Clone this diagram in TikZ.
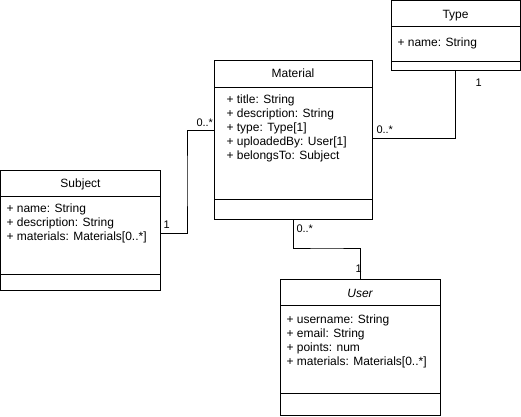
\documentclass[tikz,border=0pt]{standalone}
\usepackage{fontspec}
\setmainfont{Liberation Sans}
\begin{document}
\begin{tikzpicture}[x=1pt,y=-1pt,line width=1pt,
  cls/.style={draw, fill=white, inner sep=0pt, outer sep=0pt, anchor=north west},
  ttl/.style={anchor=base, inner sep=0pt, font=\fontsize{12}{14}\selectfont},
  attr/.style={anchor=base west, inner sep=0pt, font=\fontsize{12}{14}\selectfont},
  mult/.style={anchor=west, inner sep=0pt, font=\fontsize{11}{13}\selectfont},
  conn/.style={draw, line width=1pt}]
\path[use as bounding box, fill=white] (0,0) rectangle (521,416);

% Material
\node[cls, minimum width=158, minimum height=159] (mat) at (214,60) {};
\draw (mat.west |- 0,87) -- (mat.east |- 0,87);
\draw (mat.west |- 0,199) -- (mat.east |- 0,199);
\node[ttl] (matT) at (293,77.5) {Material};
\node[attr] (mat1) at (226,103) {+ title: String};
\node[attr] (mat2) at (226,117) {+ description: String};
\node[attr] (mat3) at (226,131) {+ type: Type[1]};
\node[attr] (mat4) at (226,145) {+ uploadedBy: User[1]};
\node[attr] (mat5) at (226,159) {+ belongsTo: Subject};

% Subject
\node[cls, minimum width=160, minimum height=120] (sub) at (0.5,170) {};
\draw (sub.west |- 0,196) -- (sub.east |- 0,196);
\draw (sub.west |- 0,274) -- (sub.east |- 0,274);
\node[ttl] (subT) at (80.5,187) {Subject};
\node[attr] (sub1) at (6,212) {+ name: String};
\node[attr] (sub2) at (6,226) {+ description: String};
\node[attr] (sub3) at (6,240) {+ materials: Materials[0..*]};

% Type
\node[cls, minimum width=129, minimum height=69.5] (typ) at (391,0.5) {};
\draw (typ.west |- 0,26) -- (typ.east |- 0,26);
\draw (typ.west |- 0,61) -- (typ.east |- 0,61);
\node[ttl] (typT) at (455.5,18.5) {Type};
\node[attr] (typ1) at (397,46) {+ name: String};

% User
\node[cls, minimum width=160, minimum height=136] (usr) at (280,279) {};
\draw (usr.west |- 0,305) -- (usr.east |- 0,305);
\draw (usr.west |- 0,393) -- (usr.east |- 0,393);
\node[ttl] (usrT) at (360,297) {\itshape User};
\node[attr] (usr1) at (286,323) {+ username: String};
\node[attr] (usr2) at (286,337) {+ email: String};
\node[attr] (usr3) at (286,351) {+ points: num};
\node[attr] (usr4) at (286,365) {+ materials: Materials[0..*]};

% Connectors
\draw[conn] (mat.west |- 0,130) -| (187,180) |- (sub.east |- 0,233);
\draw[conn] (mat.east |- 0,138) -| (typ.south);
\draw[conn] (mat.south) |- (327,248) -| (usr.north);

% Multiplicities
\node[mult] (m1) at (196,123) {0..*};
\node[mult] (m2) at (163,225) {1};
\node[mult] (m3) at (475,82.5) {1};
\node[mult] (m4) at (376,130) {0..*};
\node[mult] (m5) at (296,229) {0..*};
\node[mult] (m6) at (355,269) {1};
\end{tikzpicture}
\end{document}
